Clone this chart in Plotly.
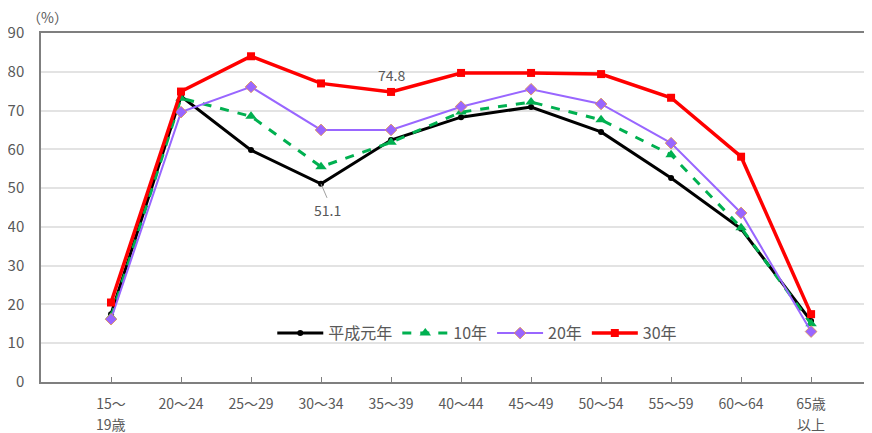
import plotly.graph_objects as go

categories = ["15〜", "20〜24", "25〜29", "30〜34", "35〜39", "40〜44",
              "45〜49", "50〜54", "55〜59", "60〜64", "65歳"]
second_lines = {0: "19歳", 10: "以上"}
heisei1 = [17.5, 73.7, 59.8, 51.1, 62.4, 68.3, 70.9, 64.5, 52.6, 39.5, 15.7]
h10 = [16.8, 73.2, 68.5, 55.5, 61.8, 69.6, 72.2, 67.6, 58.6, 39.8, 15.0]
h20 = [16.2, 69.6, 76.1, 65.0, 65.0, 71.0, 75.5, 71.7, 61.6, 43.6, 13.0]
h30 = [20.5, 74.9, 84.0, 77.0, 74.8, 79.7, 79.7, 79.4, 73.3, 58.1, 17.5]
series_names = ["平成元年", "10年", "20年", "30年"]
yticks = [0, 10, 20, 30, 40, 50, 60, 70, 80, 90]

xs = list(range(len(categories)))
FONT = "Noto Sans CJK JP, sans-serif"
GRAY = "#595959"

fig = go.Figure()
fig.add_trace(go.Scatter(x=xs, y=heisei1, name=series_names[0], mode="lines+markers",
                         line=dict(color="#000000", width=3),
                         marker=dict(symbol="circle", size=6, color="#000000")))
fig.add_trace(go.Scatter(x=xs, y=h10, name=series_names[1], mode="lines+markers",
                         line=dict(color="#00B050", width=3, dash="dash"),
                         marker=dict(symbol="triangle-up", size=10, color="#00B050")))
fig.add_trace(go.Scatter(x=xs, y=h20, name=series_names[2], mode="lines+markers",
                         line=dict(color="#9966FF", width=2),
                         marker=dict(symbol="diamond", size=9, color="#9966FF",
                                     line=dict(color="#E0904A", width=0.8))))
fig.add_trace(go.Scatter(x=xs, y=h30, name=series_names[3], mode="lines+markers",
                         line=dict(color="#FF0000", width=3.5),
                         marker=dict(symbol="square", size=8, color="#FF0000")))

# data labels
fig.add_annotation(x=4, y=h30[4], text=f"{h30[4]:.1f}", showarrow=False, yshift=17,
                   font=dict(family=FONT, size=14, color=GRAY))
fig.add_annotation(x=3, y=heisei1[3], text=f"{heisei1[3]:.1f}", showarrow=True,
                   arrowhead=0, arrowwidth=1, arrowcolor="#A0A0A0",
                   ax=6, ay=14, yanchor="top",
                   font=dict(family=FONT, size=14, color=GRAY))

# second lines of two-line category labels
for i, txt in second_lines.items():
    fig.add_annotation(x=i, xref="x", y=0, yref="paper", yshift=-42, yanchor="middle",
                       text=txt, showarrow=False, borderpad=0,
                       font=dict(family=FONT, size=14, color=GRAY))

# page body has an 8px margin, so the figure is sized 864x425
fig.update_layout(
    width=864, height=425,
    margin=dict(l=33, r=0, t=25, b=51),
    paper_bgcolor="white", plot_bgcolor="white",
    font=dict(family=FONT, size=14, color=GRAY),
    showlegend=True,
    legend=dict(orientation="h", x=0.525, xanchor="center", y=0.14, yanchor="middle",
                bgcolor="rgba(255,255,255,0)", font=dict(family=FONT, size=16, color=GRAY),
                itemwidth=46, tracegroupgap=0),
    xaxis=dict(range=[-1, 10.87], tickvals=xs, ticktext=categories,
               showgrid=False, zeroline=False, automargin=False,
               showline=True, linecolor="#7F7F7F", linewidth=1.5, mirror=True,
               ticks="inside", ticklen=5, tickcolor="#7F7F7F", ticklabelstandoff=8,
               tickfont=dict(family=FONT, size=14, color=GRAY)),
    yaxis=dict(range=[0, 90], tickvals=yticks, showgrid=True, gridcolor="#E3E3E3",
               gridwidth=1.5, zeroline=False, showline=True, linecolor="#7F7F7F",
               linewidth=1.5, ticks="", ticklabelstandoff=12, automargin=False,
               tickfont=dict(family=FONT, size=15, color=GRAY)),
)
fig.add_annotation(xref="paper", yref="paper", x=0.008, y=1.0, yshift=16,
                   text="（%）", showarrow=False, xanchor="center", yanchor="middle",
                   font=dict(family=FONT, size=14, color=GRAY))

fig.write_html("out.html")
